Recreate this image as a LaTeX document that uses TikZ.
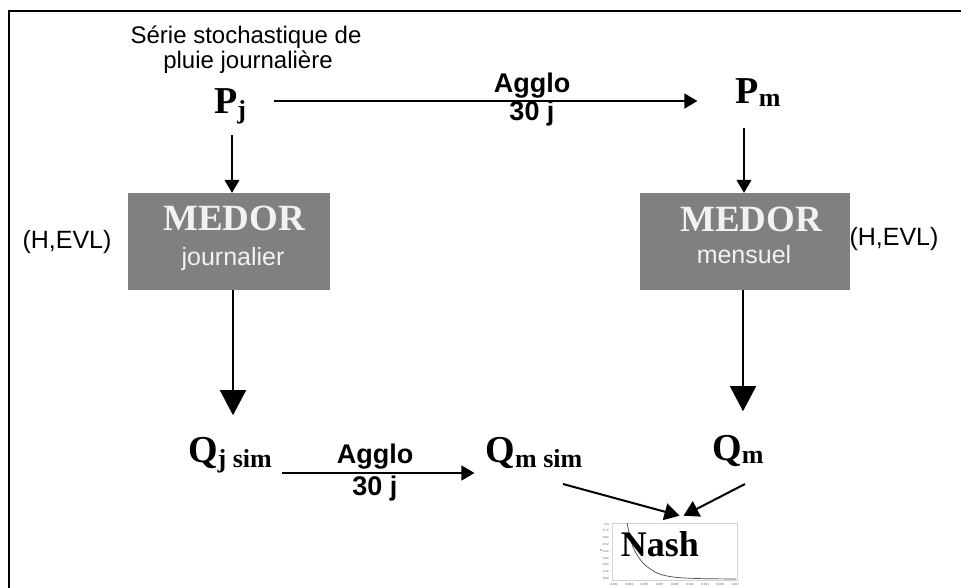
\documentclass[tikz,border=0pt]{standalone}
\usepackage{fontspec}
\setmainfont{Liberation Serif}
\newfontfamily\arial{Liberation Sans}
\usetikzlibrary{arrows.meta,calc}
\definecolor{boxgray}{HTML}{808080}
\definecolor{medortxt}{HTML}{F2F2F2}
\newcommand\sbx[2][-5pt]{\raisebox{#1}{\fontsize{26}{26}\selectfont #2}}
\begin{document}
\begin{tikzpicture}[x=1pt,y=-1pt,
  txt/.style={font=\arial\fontsize{24}{26}\selectfont, inner sep=0, anchor=base},
  htxt/.style={font=\arial\fontsize{25}{26}\selectfont, inner sep=0, anchor=base},
  btxt/.style={font=\arial\bfseries\fontsize{27}{27}\selectfont, inner sep=0, anchor=base},
  sym/.style={font=\bfseries\fontsize{38}{38}\selectfont, inner sep=0, anchor=base},
  medbox/.style={fill=boxgray, minimum height=97pt, inner sep=0},
  medtxt/.style={font=\bfseries\fontsize{37}{37}\selectfont, text=medortxt, inner sep=0, anchor=base},
  subtxt/.style={font=\arial\fontsize{25}{26}\selectfont, text=medortxt, inner sep=0, anchor=base},
  sarr/.style={-{Triangle[length=13pt,width=15pt]}, line width=1.3pt},
  narr/.style={-{Triangle[length=15pt,width=17pt]}, line width=2pt},
  barr/.style={-{Triangle[length=25pt,width=26pt]}, line width=1.4pt},
  frame/.style={line width=2pt},
  tick/.style={font=\arial\fontsize{3}{3}\selectfont, inner sep=0, text=gray!70!black}
]
\useasboundingbox (0,0) rectangle (961,587);
\draw[frame] (9,620) -- (9,11) -- (1000,11);

% title
\node[txt] (title1) at (246,43) {Série stochastique de};
\node[txt] (title2) at (248,68) {pluie journalière};

% P nodes
\node[sym] (pj) at (230,113) {P\sbx{j}};
\node[sym] (pm) at (758,103) {P\sbx[-3pt]{m}};
\node[btxt] (agg1) at (532,92) {Agglo};
\node[btxt] (agg1b) at (532,120) {30 j};

% MEDOR boxes
\node[medbox, minimum width=202pt] (medj) at (229,241.5) {};
\node[medbox, minimum width=210pt] (medm) at (745,241.5) {};
\node[medtxt] (medjT) at (234,230) {MEDOR};
\node[subtxt] (medjS) at (233,265) {journalier};
\node[medtxt] (medmT) at (751,231) {MEDOR};
\node[subtxt] (medmS) at (744,263) {mensuel};
\node[htxt] (hevl1) at (67,248) {(H,EVL)};
\node[htxt] (hevl2) at (894,245) {(H,EVL)};

% Q nodes
\node[sym] (qjsim) at (230,462) {Q\sbx{j sim}};
\node[sym] (qmsim) at (534,462) {Q\sbx{m sim}};
\node[sym] (qm) at (738,460) {Q\sbx[-3pt]{m}};
\node[btxt] (agg2) at (375,463) {Agglo};
\node[btxt] (agg2b) at (375,495) {30 j};

% Nash chart
\node[draw=gray!35, line width=0.6pt, fill=white, minimum width=125pt, minimum height=57pt, inner sep=0] (nash) at (674.5,551.5) {};
\draw[gray!60!black, line width=0.7pt] plot[smooth] coordinates {(627,523) (633,547) (643,563) (657,573) (673,577) (697,578.5) (736,579)};
\foreach \v [count=\i from 0] in {0.8,0.72,0.62,0.52,0.42,0.32,0.22,0.12,0.02}
  \node[tick, anchor=east] at (609,524+\i*6.8) {\v};
\foreach \v [count=\i from 0] in {0.001,0.003,0.005,0.007,0.009,0.011,0.013,0.015,0.017}
  \node[tick] at (614+\i*15.2,584) {\v};
\node[tick] at (601,550) {H};
\node[sym, font=\bfseries\fontsize{36}{36}\selectfont] (nashT) at (660,556) {Nash};

% arrows
\draw[sarr] ($(pj.base east)+(28,-12)$) -- ($(pm.base west)+(-38,-2)$);
\draw[sarr] ($(pj.base)+(2,22)$) coordinate (a1) -- (a1 |- medj.north);
\draw[sarr] ($(medm.north)+(-1,-65)$) -- ($(medm.north)+(-1,0)$);
\draw[barr] ($(medj.south)+(4,0)$) -- ($(medj.south)+(4,125)$);
\draw[barr] ($(medm.south)+(-2,0)$) -- ($(medm.south)+(-2,121)$);
\draw[sarr] ($(qjsim.base east)+(10,11)$) -- ($(qmsim.base west)+(-11,11)$);
\draw[narr] ($(qmsim.base)+(29,22)$) -- ($(nash.north)+(5,-7)$);
\draw[narr] ($(qm.base)+(7,24)$) -- ($(nash.north)+(9,-7)$);
\end{tikzpicture}
\end{document}
